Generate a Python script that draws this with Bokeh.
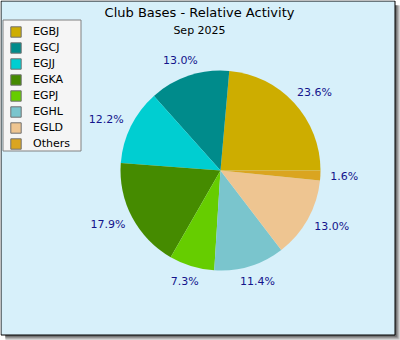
import numpy as np
from bokeh.plotting import figure
from bokeh.models import ColumnDataSource, Legend, LegendItem, Label, Range1d
from bokeh.embed import file_html
from bokeh.resources import INLINE
from bokeh.core.properties import value

# ---- data ----
title_text = "Club Bases - Relative Activity"
subtitle_text = "Sep 2025"
bases = ["EGBJ", "EGCJ", "EGJJ", "EGKA", "EGPJ", "EGHL", "EGLD", "Others"]
shares = [23.6, 13.0, 12.2, 17.9, 7.3, 11.4, 13.0, 1.6]
colors = ["#CDAD00", "#008B8B", "#00CED1", "#458B00", "#66CD00", "#7AC5CD", "#EEC591", "#DAA520"]

W, H = 400, 340
p = figure(width=W, height=H, x_range=Range1d(0, W), y_range=Range1d(0, H),
           min_border=0, output_backend="svg", toolbar_location=None)
p.axis.visible = False
p.grid.visible = False
p.outline_line_color = None
p.background_fill_color = "white"
p.border_fill_color = "white"

# ---- card shadow (gradient) and card ----
shadow_cols = ["#e2e2e2", "#c4c4c4", "#a4a4a4", "#858585", "#666666"]
for i, c in enumerate(shadow_cols):
    p.quad(left=5, right=W - i, top=H - 5, bottom=i, fill_color=c, line_color=None)
p.quad(left=0.5, right=394.5, top=H - 0.5, bottom=H - 334.5,
       fill_color="#d7f0fa", line_color="black", line_width=1)

# ---- pie ----
vals = np.array(shares, dtype=float)
edges = np.concatenate([[0.0], np.cumsum(vals)]) / vals.sum() * 2 * np.pi
start, end = edges[:-1], edges[1:]
cx, cy, r = 220, H - 170, 100
src = ColumnDataSource(dict(start=start, end=end, color=colors, base=bases))
p.wedge(x=cx, y=cy, radius=r, start_angle="start", end_angle="end",
        fill_color="color", line_color=None, source=src)

# ---- percentage labels ----
cw = {d: 7.0 for d in "0123456789"}
cw.update({".": 3.5, "%": 10.4})
texts = ["%.1f%%" % v for v in shares]
mid = (start + end) / 2
lr = 110
lx = cx + lr * np.cos(mid)
ly = cy + lr * np.sin(mid)
widths = np.array([sum(cw.get(ch, 7) for ch in t) for t in texts])
xo = widths / 2 * np.cos(mid)
yo = -5.5 * np.sin(mid)
lsrc = ColumnDataSource(dict(x=lx, y=ly, t=texts, xo=xo, yo=yo))
p.text(x="x", y="y", text="t", x_offset="xo", y_offset="yo", source=lsrc,
       text_align="center", text_baseline="middle",
       text_font=value("DejaVu Sans"), text_font_size="11px", text_color="#14148c")

# ---- titles ----
p.add_layout(Label(x=199, y=H - 12, text=title_text, text_align="center",
                   text_baseline="middle", text_font="DejaVu Sans",
                   text_font_size="13px", text_color="black"))
p.add_layout(Label(x=199, y=H - 29.5, text=subtitle_text, text_align="center",
                   text_baseline="middle", text_font="DejaVu Sans",
                   text_font_size="11px", text_color="black"))

# ---- legend ----
p.quad(left=2.5, right=80.5, top=H - 19.5, bottom=H - 150.5,
       fill_color="#f5f5f5", line_color="#808080", line_width=1)
items = []
for b, c in zip(bases, colors):
    # proxy glyph kept outside the visible range; only its legend swatch shows
    rr = p.rect(x=[-500], y=[-500], width=1, height=1, fill_color=c,
                line_color="#707070", line_width=1)
    items.append(LegendItem(label=b, renderers=[rr]))
legend = Legend(items=items, location=(9, H - 150), orientation="vertical",
                padding=3, spacing=3, margin=0,
                glyph_width=13, glyph_height=13, label_height=13, label_standoff=11,
                label_text_font="DejaVu Sans", label_text_font_size="11px",
                label_text_color="black", border_line_color=None,
                background_fill_alpha=0)
p.add_layout(legend, "center")

open("out.html", "w").write(file_html(p, INLINE))
